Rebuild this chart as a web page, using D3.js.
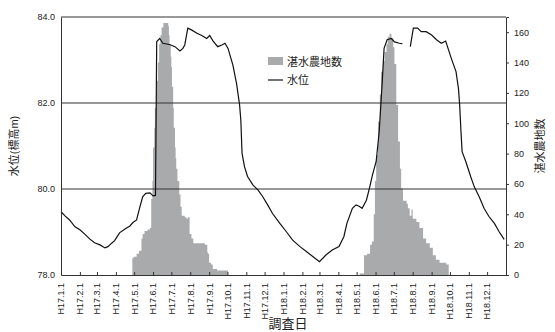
<!DOCTYPE html>
<html>
<head>
<meta charset="utf-8">
<script src="https://cdn.jsdelivr.net/npm/d3@7"></script>
<style>
  body { margin: 0; background: #fff; }
  text { font-family: "Liberation Sans", "Noto Sans CJK JP", sans-serif; fill: #222; }
</style>
</head>
<body>
<div id="chart"></div>
<script>
// water level (m above sea level), null = gap in record
const levelDates = [
  "2005-01-01","2005-01-08","2005-01-15","2005-01-24","2005-02-01","2005-02-09","2005-02-17","2005-02-25",
  "2005-03-06","2005-03-14","2005-03-19","2005-03-25","2005-03-30","2005-04-07","2005-04-16","2005-04-24",
  "2005-04-29","2005-05-05","2005-05-10","2005-05-15","2005-05-20","2005-05-27","2005-06-01","2005-06-05",
  "2005-06-07","2005-06-12","2005-06-17","2005-06-28","2005-07-07","2005-07-15","2005-07-20","2005-07-23",
  "2005-07-28","2005-08-03","2005-08-12","2005-08-20","2005-08-28","2005-09-02","2005-09-07","2005-09-15",
  "2005-09-22","2005-09-27","2005-10-02","2005-10-10","2005-10-16","2005-10-21","2005-10-23","2005-10-25",
  "2005-10-29","2005-11-03","2005-11-12","2005-11-20","2005-11-28","2005-12-06","2005-12-14","2005-12-26",
  "2006-01-06","2006-01-16","2006-01-28","2006-02-08","2006-02-18","2006-03-01","2006-03-12","2006-03-22",
  "2006-04-02","2006-04-10","2006-04-15","2006-04-24","2006-04-30","2006-05-05","2006-05-10","2006-05-17",
  "2006-05-22","2006-05-27","2006-06-02","2006-06-07","2006-06-12","2006-06-15","2006-06-20","2006-06-27",
  "2006-07-02","2006-07-10","2006-07-15","2006-07-21","2006-07-28","2006-08-02","2006-08-09","2006-08-15",
  "2006-08-23","2006-09-01","2006-09-09","2006-09-17","2006-09-24","2006-09-27","2006-10-03","2006-10-11",
  "2006-10-15","2006-10-17","2006-10-19","2006-10-21","2006-10-27","2006-11-04","2006-11-10","2006-11-18",
  "2006-11-26","2006-12-04","2006-12-13","2006-12-21","2006-12-29"
];
const levelValues = [
  79.47,79.37,79.28,79.12,79.05,78.95,78.84,78.75,
  78.70,78.63,78.66,78.74,78.80,78.98,79.07,79.14,
  79.22,79.28,79.56,79.82,79.90,79.91,79.84,79.85,
  83.43,83.50,83.39,83.36,83.31,83.21,83.27,83.35,
  83.74,83.70,83.62,83.57,83.50,83.57,83.45,83.31,
  83.35,83.39,83.27,82.88,82.45,81.95,81.60,80.83,
  80.52,80.29,80.09,79.98,79.82,79.63,79.43,79.20,
  79.00,78.81,78.66,78.54,78.43,78.31,78.47,78.58,
  78.66,78.89,79.20,79.55,79.63,79.60,79.55,79.74,
  80.02,80.33,80.64,81.33,82.50,83.27,83.47,83.50,
  83.42,83.39,83.38,null,83.31,83.74,83.74,83.66,
  83.66,83.58,83.47,83.39,83.44,83.31,83.05,82.73,
  82.34,81.95,81.37,80.87,80.64,80.29,80.05,79.82,
  79.55,79.36,79.20,79.00,78.83
];

// number of flooded farm plots, each value holds until the next date
const barDates = [
  "2005-04-28","2005-04-30","2005-05-05","2005-05-09","2005-05-13","2005-05-15","2005-05-18","2005-05-23",
  "2005-05-27","2005-05-29","2005-05-31","2005-06-01","2005-06-03","2005-06-04","2005-06-06","2005-06-07",
  "2005-06-09","2005-06-11","2005-06-13","2005-06-15","2005-06-18","2005-06-22","2005-06-26","2005-06-27",
  "2005-06-28","2005-06-30","2005-07-01","2005-07-02","2005-07-04","2005-07-05","2005-07-07","2005-07-08",
  "2005-07-09","2005-07-11","2005-07-14","2005-07-16","2005-07-18","2005-07-23","2005-07-26","2005-07-28",
  "2005-07-30","2005-07-31","2005-08-03","2005-08-06","2005-08-19","2005-08-25","2005-08-29","2005-08-30",
  "2005-09-01","2005-09-04","2005-09-07","2005-09-09","2005-09-14","2005-10-02",
  "2006-05-06","2006-05-13","2006-05-18","2006-05-23","2006-05-26","2006-05-29","2006-05-31","2006-06-02",
  "2006-06-05","2006-06-08","2006-06-10","2006-06-13","2006-06-16","2006-06-19","2006-06-21","2006-06-24",
  "2006-06-27","2006-06-30","2006-07-02","2006-07-05","2006-07-08","2006-07-11","2006-07-13","2006-07-16",
  "2006-07-22","2006-07-24","2006-07-27","2006-07-30","2006-08-01","2006-08-07","2006-08-12","2006-08-18",
  "2006-08-23","2006-08-29","2006-09-03","2006-09-08","2006-09-14","2006-09-25","2006-09-29"
];
const barCounts = [
  11,12,14,16,24,27,29,30,
  31,50,62,84,97,110,122,128,
  140,152,158,163,166,166,164,158,
  152,144,137,124,110,97,84,77,
  70,62,53,45,39,38,37,38,
  38,27,24,21,21,20,15,14,
  8,7,4,4,3,0,
  1,13,14,20,22,40,62,79,
  101,119,134,141,147,152,157,159,
  156,150,139,112,88,70,57,49,
  47,44,39,43,37,35,31,24,
  21,18,13,10,8,7,0
];

// x tick labels: first of each month, Heisei era
const tickDates = d3.range(24).map(i => new Date(2005, i, 1));
const tickLabel = d => `H${d.getFullYear() - 1988}.${d.getMonth() + 1}.1`;
const levelTicks = [78, 80, 82, 84];
const countTicks = [0, 20, 40, 60, 80, 100, 120, 140, 160];

const width = 555, height = 332;
const margin = { top: 17, right: 49, bottom: 57, left: 61 };
const parse = d3.timeParse("%Y-%m-%d");

const svg = d3.select("#chart").append("svg")
  .attr("width", width)
  .attr("height", height);

const x = d3.scaleTime()
  .domain([new Date(2005, 0, 1), new Date(2007, 0, 1)])
  .range([margin.left, width - margin.right]);
const yLevel = d3.scaleLinear().domain([78, 84]).range([height - margin.bottom, margin.top]);
const yCount = d3.scaleLinear().domain([0, 170]).range([height - margin.bottom, margin.top]);

// bars as one stepped area so neighbouring days don't leave seams
const bars = barDates.map((d, i) => ({ date: parse(d), v: barCounts[i] }));
svg.append("path")
  .datum(bars)
  .attr("fill", "#a9aaac")
  .attr("d", d3.area().curve(d3.curveStepAfter)
    .x(d => x(d.date)).y0(yCount(0)).y1(d => yCount(d.v)));

// gridlines at 80, 82 and 84
svg.append("g").selectAll("line")
  .data([80, 82, 84])
  .enter().append("line")
  .attr("x1", margin.left).attr("x2", width - margin.right)
  .attr("y1", d => yLevel(d)).attr("y2", d => yLevel(d))
  .attr("stroke", "#333").attr("stroke-width", 1);

// water level line
const levels = levelDates.map((d, i) => ({ date: parse(d), v: levelValues[i] }));
svg.append("path")
  .datum(levels)
  .attr("fill", "none")
  .attr("stroke", "#111")
  .attr("stroke-width", 1.2)
  .attr("d", d3.line().defined(d => d.v != null).x(d => x(d.date)).y(d => yLevel(d.v)));

// left axis
const left = svg.append("g")
  .attr("transform", `translate(${margin.left},0)`)
  .call(d3.axisLeft(yLevel).tickValues(levelTicks).tickFormat(d3.format(".1f")).tickSize(0).tickPadding(6));
left.select(".domain").attr("stroke", "#333");
left.selectAll("text").attr("font-size", "9px");

// right axis
const right = svg.append("g")
  .attr("transform", `translate(${width - margin.right},0)`)
  .call(d3.axisRight(yCount).tickValues(countTicks).tickSize(3).tickPadding(5));
right.select(".domain").attr("stroke", "#333");
right.selectAll("line").attr("stroke", "#333");
right.selectAll("text").attr("font-size", "9px");

// bottom axis
const bottom = svg.append("g")
  .attr("transform", `translate(0,${height - margin.bottom})`)
  .call(d3.axisBottom(x).tickValues(tickDates).tickFormat(tickLabel).tickSizeInner(-3).tickSizeOuter(0).tickPadding(8));
bottom.select(".domain").attr("stroke", "#333");
bottom.selectAll("line").attr("stroke", "#333");
bottom.selectAll("text")
  .attr("font-size", "9px")
  .attr("text-anchor", "end")
  .attr("transform", "rotate(-90)")
  .attr("x", -8)
  .attr("y", 0)
  .attr("dy", "0.32em");

// axis titles
svg.append("text")
  .attr("transform", `translate(18,${(margin.top + height - margin.bottom) / 2}) rotate(-90)`)
  .attr("text-anchor", "middle")
  .attr("font-size", "11px")
  .text("水位(標高m)");
svg.append("text")
  .attr("transform", `translate(544,${(margin.top + height - margin.bottom) / 2}) rotate(-90)`)
  .attr("text-anchor", "middle")
  .attr("font-size", "11px")
  .text("湛水農地数");
svg.append("text")
  .attr("x", 288)
  .attr("y", 328)
  .attr("text-anchor", "middle")
  .attr("font-size", "13px")
  .text("調査日");

// legend
const legend = svg.append("g").attr("transform", "translate(268,57)");
legend.append("rect").attr("width", 15).attr("height", 8).attr("fill", "#a9aaac");
legend.append("text").attr("x", 19).attr("y", 8.5).attr("font-size", "11px").text("湛水農地数");
legend.append("line").attr("x1", 0).attr("x2", 15).attr("y1", 23).attr("y2", 23).attr("stroke", "#111").attr("stroke-width", 1.2);
legend.append("text").attr("x", 19).attr("y", 27).attr("font-size", "11px").text("水位");
</script>
</body>
</html>
